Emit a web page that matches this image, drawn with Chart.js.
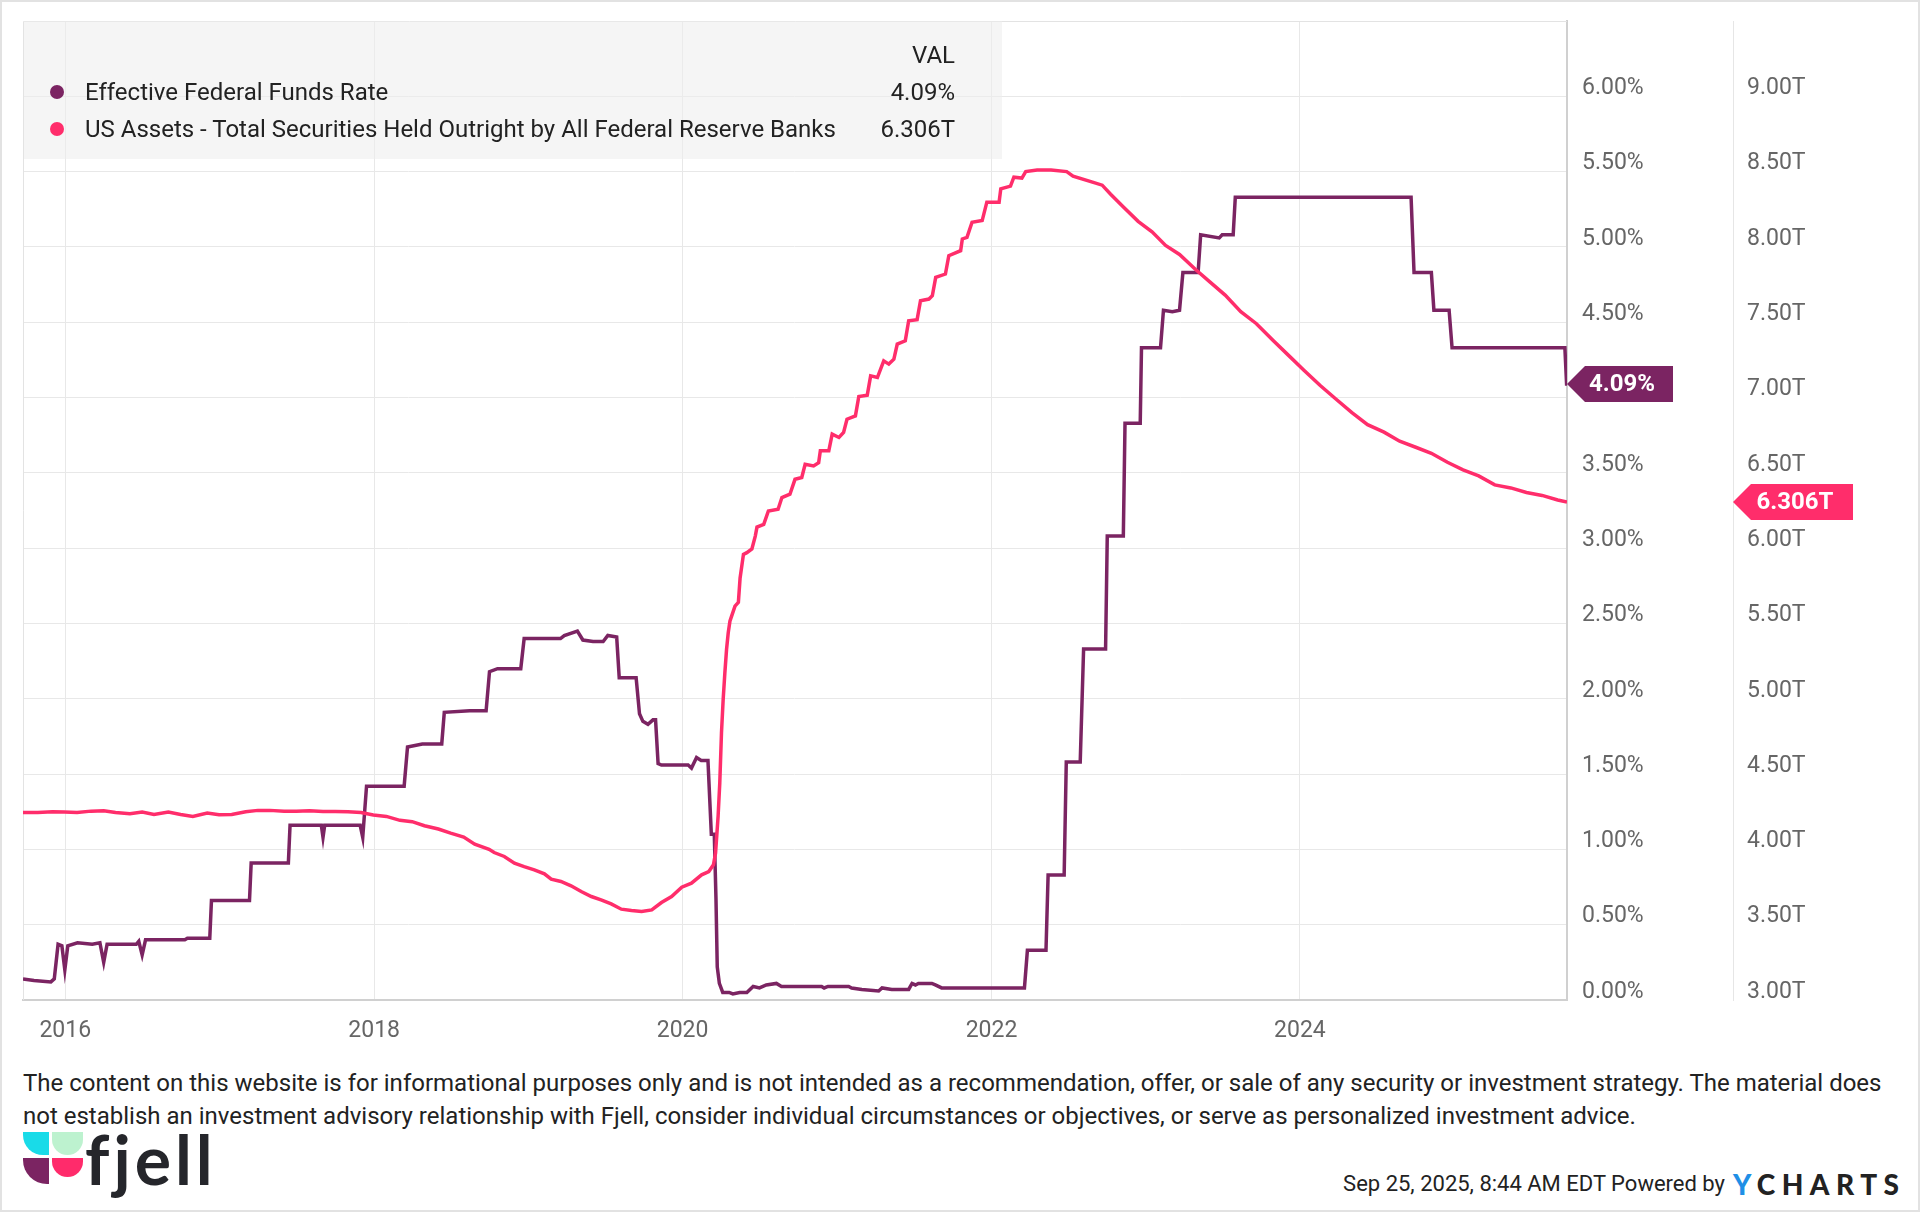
<!DOCTYPE html>
<html>
<head>
<meta charset="utf-8">
<script src="https://cdn.jsdelivr.net/npm/chart.js@4.4.1/dist/chart.umd.min.js"></script>
<style>
    html, body { margin: 0; padding: 0; background: #fff; }
    #frame { position: relative; width: 1920px; height: 1212px; overflow: hidden; font-family: Roboto, "Noto Sans", sans-serif; color: #222; }
    #frameBorder { position: absolute; left: 0; top: 0; width: 1920px; height: 1212px; box-sizing: border-box; border: 2px solid #e2e2e2; pointer-events: none; }
    #chartCanvas { position: absolute; left: 0; top: 0; }
    #customLegend { position: absolute; left: 24px; top: 21px; width: 978px; height: 138px; background: rgba(236, 236, 236, 0.55); font-size: 24px; }
    .legend-row { position: absolute; left: 0; width: 100%; height: 30px; line-height: 30px; }
    .legend-dot { position: absolute; left: 26px; top: 8px; width: 14px; height: 14px; border-radius: 50%; }
    .legend-name { position: absolute; left: 61px; }
    .legend-val { position: absolute; right: 47px; }
    #disclaimer { position: absolute; left: 23px; top: 1067px; font-size: 24px; line-height: 33px; color: #222; white-space: nowrap; }
    #logo { position: absolute; left: 23px; top: 1132px; width: 200px; height: 66px; }
    #logo div { position: absolute; }
    #logoText { position: absolute; left: 62px; top: -14px; font-family: Lato, sans-serif; font-weight: 700; font-size: 68px; letter-spacing: 4px; color: #25262b; }
    #stamp { position: absolute; right: 195px; top: 1170px; height: 28px; line-height: 28px; font-size: 22px; color: #222; }
    #ycharts { position: absolute; left: 1733px; top: 1167px; font-family: Lato, sans-serif; font-weight: 900; font-size: 28px; letter-spacing: 6.5px; color: #222; line-height: 34px; }
</style>
</head>
<body>
<div id="frame">
    <canvas id="chartCanvas" width="1920" height="1060"></canvas>
    <div id="customLegend"></div>
    <div id="disclaimer">The content on this website is for informational purposes only and is not intended as a recommendation, offer, or sale of any security or investment strategy. The material does<br>not establish an investment advisory relationship with Fjell, consider individual circumstances or objectives, or serve as personalized investment advice.</div>
    <div id="logo">
        <div style="left:0;top:0;width:26px;height:23px;background:#19dbe8;border-radius:0 0 0 20px;"></div>
        <div style="left:29px;top:0;width:31px;height:23px;background:#bdf2cf;border-radius:0 0 18px 18px;"></div>
        <div style="left:0;top:26px;width:26px;height:26px;background:#7b2462;border-radius:0 0 0 24px;"></div>
        <div style="left:29px;top:26px;width:31px;height:19px;background:#ff2b6b;border-radius:0 0 18px 18px;"></div>
        <div id="logoText">fjell</div>
    </div>
    <div id="stamp">Sep 25, 2025, 8:44 AM EDT Powered by</div>
    <div id="ycharts"><span style="color:#1f8fe6">Y</span>CHARTS</div>
    <div id="frameBorder"></div>
</div>
<script>
// Effective Federal Funds Rate (%) at each step / turn
var effrDates = ['2015-09-23', '2015-10-19', '2015-11-28', '2015-12-06', '2015-12-15', '2015-12-24', '2015-12-31', '2016-01-07', '2016-01-30', '2016-03-05', '2016-03-23', '2016-04-01', '2016-04-09', '2016-06-17', '2016-06-23', '2016-07-01', '2016-07-09', '2016-10-10', '2016-10-16', '2016-12-08', '2016-12-12', '2017-03-12', '2017-03-16', '2017-06-12', '2017-06-16', '2017-08-29', '2017-09-02', '2017-09-06', '2017-11-29', '2017-12-05', '2017-12-14', '2018-03-13', '2018-03-21', '2018-04-25', '2018-06-10', '2018-06-16', '2018-08-15', '2018-09-23', '2018-10-01', '2018-10-20', '2018-12-14', '2018-12-22', '2019-03-18', '2019-03-27', '2019-04-27', '2019-05-10', '2019-06-03', '2019-06-27', '2019-07-08', '2019-07-29', '2019-08-04', '2019-09-13', '2019-09-21', '2019-09-29', '2019-10-11', '2019-10-23', '2019-10-29', '2019-11-04', '2019-11-12', '2020-01-14', '2020-01-22', '2020-02-03', '2020-02-14', '2020-03-01', '2020-03-09', '2020-03-16', '2020-03-20', '2020-03-23', '2020-03-28', '2020-04-05', '2020-04-20', '2020-04-29', '2020-05-15', '2020-06-01', '2020-06-16', '2020-07-01', '2020-07-17', '2020-08-10', '2020-08-22', '2020-11-25', '2020-12-01', '2020-12-10', '2021-01-28', '2021-02-04', '2021-02-28', '2021-04-09', '2021-04-17', '2021-05-10', '2021-06-19', '2021-06-27', '2021-07-05', '2021-07-12', '2021-08-13', '2021-08-21', '2021-09-05', '2022-03-20', '2022-03-27', '2022-05-10', '2022-05-15', '2022-06-22', '2022-06-27', '2022-07-30', '2022-08-07', '2022-09-28', '2022-10-02', '2022-11-09', '2022-11-13', '2022-12-19', '2022-12-22', '2023-02-05', '2023-02-12', '2023-03-05', '2023-03-22', '2023-03-30', '2023-05-05', '2023-05-11', '2023-06-24', '2023-07-01', '2023-07-27', '2023-08-01', '2024-09-20', '2024-09-27', '2024-11-07', '2024-11-13', '2024-12-19', '2024-12-26', '2025-09-19', '2025-09-23', '2025-09-24'];
var effrValues = [0.14, 0.13, 0.12, 0.14, 0.37, 0.36, 0.20, 0.36, 0.38, 0.37, 0.38, 0.25, 0.37, 0.37, 0.39, 0.30, 0.40, 0.40, 0.41, 0.41, 0.66, 0.66, 0.91, 0.91, 1.16, 1.16, 1.08, 1.16, 1.16, 1.08, 1.42, 1.42, 1.68, 1.70, 1.70, 1.91, 1.92, 1.92, 2.18, 2.20, 2.20, 2.40, 2.40, 2.42, 2.45, 2.39, 2.38, 2.38, 2.42, 2.41, 2.14, 2.14, 1.90, 1.85, 1.83, 1.86, 1.86, 1.57, 1.56, 1.56, 1.54, 1.61, 1.59, 1.59, 1.10, 1.10, 0.67, 0.22, 0.11, 0.05, 0.05, 0.04, 0.05, 0.05, 0.09, 0.08, 0.10, 0.11, 0.09, 0.09, 0.08, 0.09, 0.09, 0.08, 0.07, 0.06, 0.08, 0.07, 0.07, 0.11, 0.10, 0.11, 0.11, 0.10, 0.08, 0.08, 0.33, 0.33, 0.83, 0.83, 1.58, 1.58, 2.33, 2.33, 3.08, 3.08, 3.83, 3.83, 4.33, 4.33, 4.58, 4.57, 4.58, 4.83, 4.83, 5.08, 5.06, 5.08, 5.08, 5.33, 5.33, 4.83, 4.83, 4.58, 4.58, 4.33, 4.33, 4.09, 4.09];

// US Assets - Total Securities Held Outright (trillions USD)
var assetDates = ['2015-09-23', '2015-10-28', '2015-12-02', '2015-12-30', '2016-01-29', '2016-03-02', '2016-04-01', '2016-04-29', '2016-06-02', '2016-07-01', '2016-07-29', '2016-09-01', '2016-09-30', '2016-10-29', '2016-12-02', '2016-12-30', '2017-01-29', '2017-03-03', '2017-04-01', '2017-04-29', '2017-06-02', '2017-07-01', '2017-08-01', '2017-09-02', '2017-10-01', '2017-10-31', '2017-12-01', '2017-12-30', '2018-01-30', '2018-03-03', '2018-04-01', '2018-04-30', '2018-06-02', '2018-07-01', '2018-08-01', '2018-08-27', '2018-09-30', '2018-10-12', '2018-11-05', '2018-11-29', '2018-12-22', '2019-01-15', '2019-02-08', '2019-02-24', '2019-03-19', '2019-04-12', '2019-05-06', '2019-05-30', '2019-06-22', '2019-07-16', '2019-08-09', '2019-09-02', '2019-09-26', '2019-10-20', '2019-11-12', '2019-12-06', '2019-12-30', '2020-01-22', '2020-02-15', '2020-03-03', '2020-03-14', '2020-03-19', '2020-03-25', '2020-03-29', '2020-04-02', '2020-04-06', '2020-04-10', '2020-04-14', '2020-04-18', '2020-04-22', '2020-04-26', '2020-05-04', '2020-05-12', '2020-05-16', '2020-05-24', '2020-06-01', '2020-06-13', '2020-06-21', '2020-06-25', '2020-07-11', '2020-07-22', '2020-08-14', '2020-08-23', '2020-09-11', '2020-09-23', '2020-10-09', '2020-10-17', '2020-11-06', '2020-11-18', '2020-11-22', '2020-12-12', '2020-12-20', '2021-01-05', '2021-01-16', '2021-01-24', '2021-02-13', '2021-02-21', '2021-03-13', '2021-03-21', '2021-04-06', '2021-04-21', '2021-05-03', '2021-05-15', '2021-05-23', '2021-06-11', '2021-06-19', '2021-07-09', '2021-07-17', '2021-08-06', '2021-08-14', '2021-08-22', '2021-09-14', '2021-09-22', '2021-10-20', '2021-10-24', '2021-11-04', '2021-11-16', '2021-12-10', '2021-12-21', '2022-01-19', '2022-01-23', '2022-02-15', '2022-02-23', '2022-03-14', '2022-03-23', '2022-04-19', '2022-05-22', '2022-06-28', '2022-07-13', '2022-08-28', '2022-09-20', '2022-10-10', '2022-11-11', '2022-12-14', '2023-01-16', '2023-02-17', '2023-03-22', '2023-04-29', '2023-06-01', '2023-07-08', '2023-08-14', '2023-09-20', '2023-10-29', '2023-12-05', '2024-01-11', '2024-02-18', '2024-03-26', '2024-05-03', '2024-06-09', '2024-07-18', '2024-08-24', '2024-10-01', '2024-11-07', '2024-12-15', '2025-01-21', '2025-02-27', '2025-04-06', '2025-05-14', '2025-06-20', '2025-07-27', '2025-09-02', '2025-09-24'];
var assetValues = [4.245, 4.245, 4.250, 4.248, 4.245, 4.254, 4.256, 4.245, 4.237, 4.248, 4.232, 4.248, 4.232, 4.219, 4.241, 4.230, 4.232, 4.250, 4.259, 4.259, 4.254, 4.254, 4.256, 4.252, 4.252, 4.250, 4.245, 4.228, 4.219, 4.193, 4.184, 4.157, 4.135, 4.108, 4.082, 4.035, 4.000, 3.979, 3.953, 3.909, 3.886, 3.864, 3.838, 3.802, 3.787, 3.758, 3.720, 3.687, 3.665, 3.638, 3.603, 3.594, 3.587, 3.598, 3.647, 3.687, 3.749, 3.776, 3.831, 3.853, 3.898, 3.975, 4.219, 4.441, 4.773, 4.995, 5.172, 5.327, 5.438, 5.515, 5.549, 5.615, 5.640, 5.800, 5.959, 5.970, 5.995, 6.080, 6.140, 6.158, 6.247, 6.258, 6.336, 6.358, 6.457, 6.469, 6.557, 6.546, 6.568, 6.646, 6.646, 6.757, 6.735, 6.768, 6.856, 6.878, 7.007, 7.016, 7.144, 7.133, 7.244, 7.222, 7.255, 7.355, 7.377, 7.510, 7.517, 7.643, 7.654, 7.676, 7.798, 7.820, 7.942, 7.975, 8.053, 8.064, 8.164, 8.175, 8.297, 8.297, 8.386, 8.404, 8.463, 8.457, 8.500, 8.510, 8.510, 8.500, 8.470, 8.430, 8.410, 8.350, 8.260, 8.170, 8.100, 8.010, 7.950, 7.850, 7.770, 7.680, 7.570, 7.490, 7.380, 7.280, 7.180, 7.080, 6.990, 6.900, 6.820, 6.770, 6.710, 6.670, 6.630, 6.570, 6.520, 6.480, 6.420, 6.400, 6.370, 6.350, 6.320, 6.306];

// Axis ticks
var yearTicks = [2016, 2018, 2020, 2022, 2024];
var rateTicks = [0, 0.5, 1, 1.5, 2, 2.5, 3, 3.5, 4, 4.5, 5, 5.5, 6];
var assetTicks = [3, 3.5, 4, 4.5, 5, 5.5, 6, 6.5, 7, 7.5, 8, 8.5, 9];

var effrLabel = 'Effective Federal Funds Rate';
var assetLabel = 'US Assets - Total Securities Held Outright by All Federal Reserve Banks';
var purple = '#7b2462';
var pink = '#ff2d6b';

loadRateChart();

function toPoints(dates, values) {
    return dates.map(function (d, i) {
        return { x: Date.parse(d), y: values[i] };
    });
}

// right axes: fixed width, no extra label padding at the ends
function fitRightAxis(width) {
    return function (scale) {
        scale.width = width;
        scale.paddingTop = 0;
        scale.paddingBottom = 0;
    };
}

function loadRateChart() {
    var lastRate = effrValues[effrValues.length - 1];
    var lastAssets = assetValues[assetValues.length - 1];
    var tickFont = { family: 'Roboto', size: 23 };

    // frame lines and the value tags on the right axes
    var chartDecor = {
        id: 'chartDecor',
        beforeDatasetsDraw: function (chart) {
            var a = chart.chartArea;
            var c = chart.ctx;
            c.save();
            c.strokeStyle = '#e3e3e3';
            c.lineWidth = 1;
            c.beginPath();
            c.moveTo(a.left + 0.5, a.bottom);
            c.lineTo(a.left + 0.5, a.top + 0.5);
            c.lineTo(a.right, a.top + 0.5);
            c.stroke();
            c.restore();
        },
        afterDraw: function (chart) {
            var yRate = chart.scales.y;
            var yAssets = chart.scales.y2;
            drawTag(chart.ctx, yRate.left, yRate.getPixelForValue(lastRate), yRate.left + 106, purple, lastRate.toFixed(2) + '%');
            drawTag(chart.ctx, yAssets.left, yAssets.getPixelForValue(lastAssets), yAssets.left + 120, pink, lastAssets.toFixed(3) + 'T');
        }
    };

    var ctx = document.getElementById('chartCanvas').getContext('2d');
    var rateChart = new Chart(ctx, {
        type: 'line',
        data: {
            datasets: [
                {
                    label: assetLabel,
                    data: toPoints(assetDates, assetValues),
                    yAxisID: 'y2',
                    borderColor: pink,
                    borderWidth: 3.5,
                    pointRadius: 0,
                    tension: 0,
                    order: 0
                },
                {
                    label: effrLabel,
                    data: toPoints(effrDates, effrValues),
                    yAxisID: 'y',
                    borderColor: purple,
                    borderWidth: 3.5,
                    pointRadius: 0,
                    tension: 0,
                    order: 1
                }
            ]
        },
        options: {
            responsive: false,
            animation: false,
            layout: { padding: { left: 23, top: 21, right: 0, bottom: 0 } },
            plugins: {
                legend: { display: false },
                tooltip: { enabled: false }
            },
            scales: {
                x: {
                    type: 'linear',
                    min: Date.parse('2015-09-23'),
                    max: Date.parse('2025-09-24'),
                    grid: { color: '#e8e8e8', drawTicks: false },
                    border: { color: '#d0d0d0', width: 2 },
                    ticks: {
                        color: '#666',
                        font: tickFont,
                        padding: 17,
                        maxRotation: 0,
                        callback: function (v) { return new Date(v).getUTCFullYear(); }
                    },
                    afterBuildTicks: function (scale) {
                        scale.ticks = yearTicks.map(function (y) { return { value: Date.UTC(y, 0, 1) }; });
                    },
                    afterFit: function (scale) {
                        scale.height = 60;
                        scale.paddingLeft = 0;
                        scale.paddingRight = 0;
                    }
                },
                y: {
                    position: 'right',
                    min: 0,
                    max: 6.5,
                    grid: { color: '#e8e8e8', drawTicks: false },
                    border: { color: '#d0d0d0', width: 2 },
                    ticks: {
                        color: '#666',
                        font: tickFont,
                        padding: 15,
                        labelOffset: -8,
                        callback: function (v) { return v.toFixed(2) + '%'; }
                    },
                    afterBuildTicks: function (scale) {
                        scale.ticks = rateTicks.map(function (v) { return { value: v }; });
                    },
                    afterFit: fitRightAxis(166)
                },
                y2: {
                    position: 'right',
                    min: 3,
                    max: 9.5,
                    grid: { drawOnChartArea: false, drawTicks: false },
                    border: { color: '#e6e6e6', width: 1 },
                    ticks: {
                        color: '#666',
                        font: tickFont,
                        padding: 14,
                        labelOffset: -8,
                        callback: function (v) { return v.toFixed(2) + 'T'; }
                    },
                    afterBuildTicks: function (scale) {
                        scale.ticks = assetTicks.map(function (v) { return { value: v }; });
                    },
                    afterFit: fitRightAxis(187)
                }
            }
        },
        plugins: [chartDecor]
    });

    // Generate custom legend
    var legend = document.getElementById('customLegend');
    addLegendRow(legend, 19, null, '', 'VAL');
    addLegendRow(legend, 56, purple, effrLabel, lastRate.toFixed(2) + '%');
    addLegendRow(legend, 93, pink, assetLabel, lastAssets.toFixed(3) + 'T');
}

function addLegendRow(legend, top, color, name, val) {
    var row = document.createElement('div');
    row.classList.add('legend-row');
    row.style.top = top + 'px';
    if (color) {
        var dot = document.createElement('span');
        dot.classList.add('legend-dot');
        dot.style.backgroundColor = color;
        row.appendChild(dot);
    }
    var nameEl = document.createElement('span');
    nameEl.classList.add('legend-name');
    nameEl.textContent = name;
    row.appendChild(nameEl);
    var valEl = document.createElement('span');
    valEl.classList.add('legend-val');
    valEl.textContent = val;
    row.appendChild(valEl);
    legend.appendChild(row);
}

function drawTag(c, tipX, y, rightX, color, text) {
    var h = 18;
    c.save();
    c.fillStyle = color;
    c.beginPath();
    c.moveTo(tipX, y);
    c.lineTo(tipX + h, y - h);
    c.lineTo(rightX, y - h);
    c.lineTo(rightX, y + h);
    c.lineTo(tipX + h, y + h);
    c.closePath();
    c.fill();
    c.fillStyle = '#fff';
    c.font = 'bold 24px Roboto';
    c.textAlign = 'center';
    c.textBaseline = 'middle';
    c.fillText(text, (tipX + rightX) / 2 + 2, y + 1);
    c.restore();
}
</script>
</body>
</html>
